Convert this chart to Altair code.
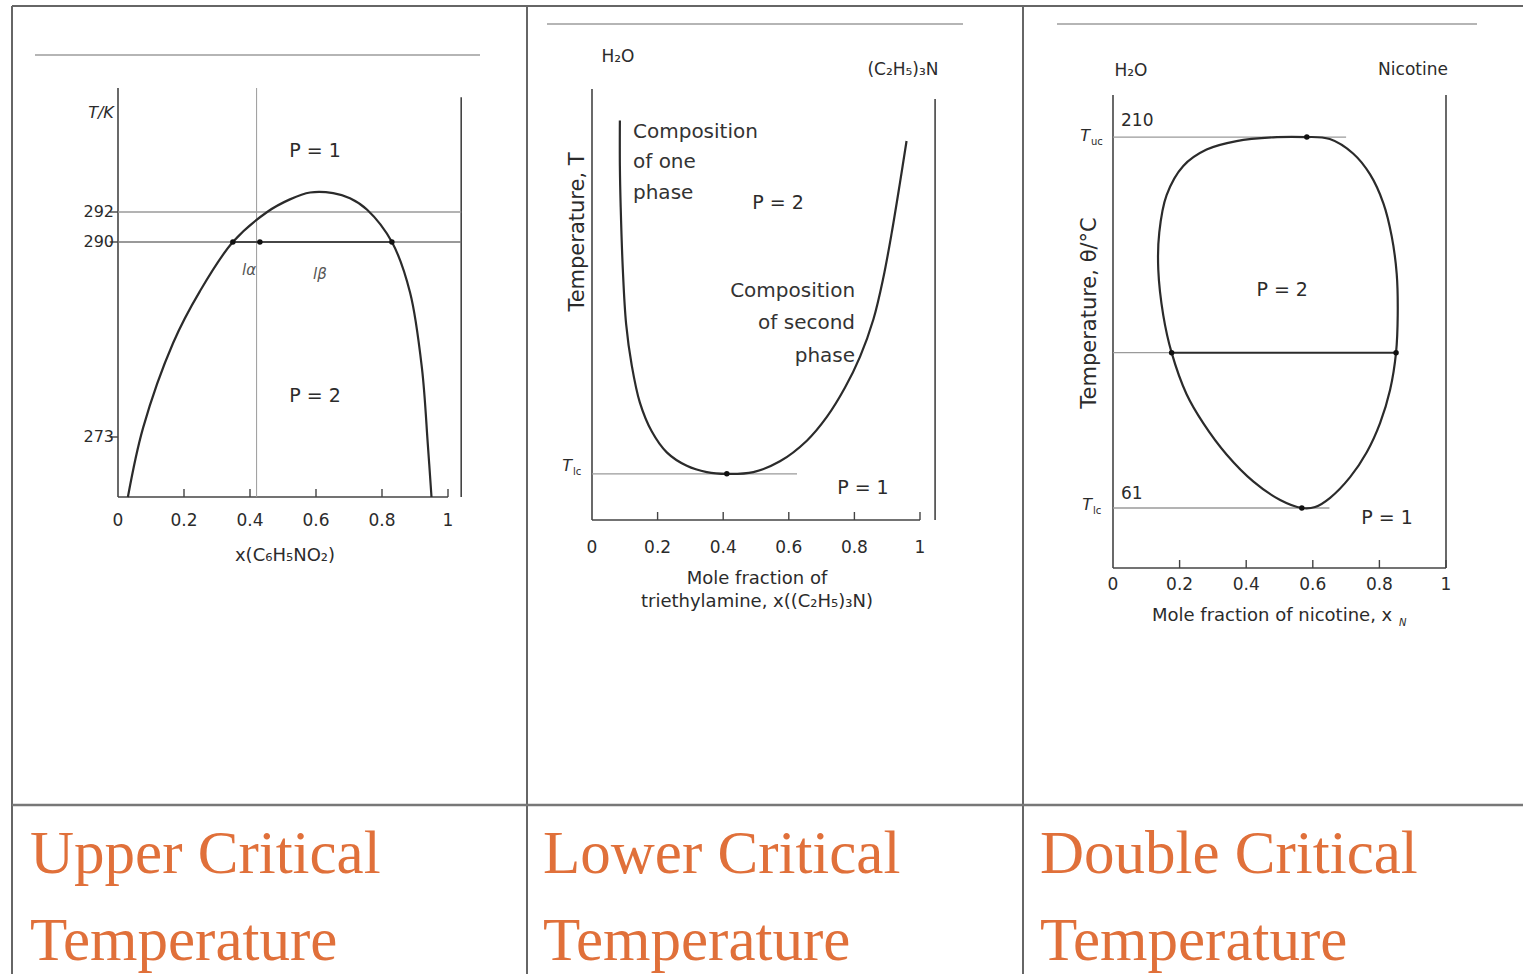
import altair as alt
import pandas as pd

# ---------------- data ----------------
# Panel 1: upper critical temperature (T/K vs x(C6H5NO2))
ucst_x = [0.030, 0.076, 0.167, 0.248, 0.348, 0.452, 0.521, 0.582, 0.652, 0.703, 0.755, 0.830, 0.885, 0.921, 0.939, 0.950]
ucst_T = [267.8, 273.8, 281.2, 285.7, 290.0, 292.0, 293.1, 293.7, 293.65, 293.2, 292.2, 290.0, 285.6, 279.0, 272.3, 267.8]
ucst_ticks_T = [292, 290, 273]
ucst_ticks_lbl = ["292", "290", "273"]
ucst_tie_T = 290
ucst_dots_x = [0.348, 0.43, 0.830]
ucst_vline_x = 0.42
ucst_ref_T = 292

# Panel 2: lower critical temperature (relative T vs x(triethylamine))
lcst_x = [0.085, 0.085, 0.0875, 0.094, 0.104, 0.121, 0.146, 0.182, 0.228, 0.289, 0.350, 0.411,
          0.492, 0.573, 0.655, 0.716, 0.771, 0.817, 0.858, 0.888, 0.914, 0.939, 0.959]
lcst_T = [89.2, 79.0, 69.8, 55.9, 43.8, 34.6, 26.2, 19.8, 15.1, 12.1, 10.7, 10.3,
          10.7, 13.1, 17.7, 23.0, 29.5, 36.4, 44.8, 54.0, 64.2, 75.3, 84.6]
lcst_Tlc = 10.3
lcst_min_x = 0.411

# Panel 3: double critical temperature (theta/°C vs x nicotine) - closed loop
dct_x = [0.582, 0.651, 0.721, 0.772, 0.812, 0.837, 0.852, 0.855, 0.850, 0.832, 0.802, 0.762, 0.712,
         0.652, 0.607, 0.567, 0.502, 0.421, 0.341, 0.271, 0.221, 0.176, 0.151, 0.136, 0.139, 0.161,
         0.211, 0.281, 0.371, 0.481, 0.582]
dct_T = [210.0, 209.2, 203.4, 195.0, 183.4, 170.1, 155.0, 138.4, 123.4, 108.4, 95.1, 83.4, 73.4,
         65.1, 61.4, 61.0, 64.2, 71.7, 82.5, 95.1, 106.7, 123.4, 138.4, 156.7, 171.7, 186.7,
         198.4, 205.0, 208.4, 209.9, 210.0]
dct_Tuc = 210
dct_Tlc = 61
dct_tie_T = 123.4
dct_tie_x = [0.176, 0.850]
dct_top_x = 0.582
dct_bot_x = 0.567

x_ticks = [0, 0.2, 0.4, 0.6, 0.8, 1]
x_tick_lbl = ["0", "0.2", "0.4", "0.6", "0.8", "1"]

titles_line1 = ["Upper Critical", "Lower Critical", "Double Critical"]
titles_line2 = ["Temperature", "Temperature", "Temperature"]

# ---------------- layout (pixels) ----------------
PANELS = {
    1: dict(xr=[118, 448], yd=[267.8, 273, 290, 292, 302.8], yr=[497, 437, 242, 212, 88]),
    2: dict(xr=[592, 920], yd=[0, 100], yr=[520, 72]),
    3: dict(xr=[1113, 1446], yd=[36.9, 226.9], yr=[568, 95]),
}
INK = "#2b2b2b"
AX = "#444444"
GRID = "#9a9a9a"
FONT = "DejaVu Sans"
ORANGE = "#E0703A"
ONE = pd.DataFrame({"a": [0]})


def pu(p, px):
    """pixel length -> data units on y near the bottom of panel p"""
    c = PANELS[p]
    return px * (c["yd"][1] - c["yd"][0]) / (c["yr"][0] - c["yr"][1])


def mk(p, mark, cols, **props):
    c = PANELS[p]
    df = pd.DataFrame(cols)
    sx = alt.Scale(domain=[0, 1], range=c["xr"], nice=False, zero=False)
    sy = alt.Scale(domain=c["yd"], range=c["yr"], nice=False, zero=False)
    enc = {}
    if "x" in df:
        enc["x"] = alt.X("x:Q", scale=sx, axis=None)
    if "x2" in df:
        enc["x2"] = alt.X2("x2:Q")
    if "y" in df:
        enc["y"] = alt.Y("y:Q", scale=sy, axis=None)
    if "y2" in df:
        enc["y2"] = alt.Y2("y2:Q")
    if "t" in df:
        enc["text"] = alt.Text("t:N")
    if "i" in df:
        enc["order"] = alt.Order("i:Q")
    return getattr(alt.Chart(df), "mark_" + mark)(**props).encode(**enc)


def ptxt(text, x, y, size=15, **kw):
    props = dict(fontSize=size, font=FONT, color=INK)
    props.update(kw)
    return alt.Chart(pd.DataFrame({"t": [text]})).mark_text(**props).encode(
        x=alt.value(x), y=alt.value(y), text=alt.Text("t:N"))


def sub(main, s, x, y, size=16):
    """italic symbol with a small subscript, right edge of the symbol at x"""
    return [ptxt(main, x, y, size=size, fontStyle="italic", align="right", baseline="middle"),
            ptxt(s, x + 1, y + 6, size=10, align="left", baseline="middle")]


def prule(x, y, x2=None, y2=None, color=AX, w=1.5):
    enc = dict(x=alt.value(x), y=alt.value(y))
    if x2 is not None:
        enc["x2"] = alt.value(x2)
    if y2 is not None:
        enc["y2"] = alt.value(y2)
    return alt.Chart(ONE).mark_rule(color=color, strokeWidth=w).encode(**enc)


def frame(p, right_x, right_top, top_T, tick_y):
    """axes of a panel: y axis, x axis, upward ticks, labels"""
    c = PANELS[p]
    y0 = c["yd"][0]
    L = []
    L.append(mk(p, "rule", dict(x=[0], y=[y0], y2=[top_T]), color=AX, strokeWidth=1.6))
    L.append(mk(p, "rule", dict(x=[0], x2=[1], y=[y0]), color=AX, strokeWidth=1.6))
    L.append(mk(p, "rule", dict(x=[right_x], y=[y0], y2=[right_top]), color=AX, strokeWidth=1.6))
    L.append(mk(p, "rule", dict(x=x_ticks[1:], y=[y0] * 5, y2=[y0 + pu(p, 8)] * 5),
                color=AX, strokeWidth=1.4))
    L.append(mk(p, "text", dict(x=x_ticks, t=x_tick_lbl), y=tick_y, fontSize=17,
                font=FONT, color=INK, baseline="middle"))
    return L


layers = []

# ---------------- table grid ----------------
layers += [
    prule(12, 6, x2=1523, color="#666666", w=2),
    prule(12, 6, y2=974, color="#666666", w=2),
    prule(527, 6, y2=974, color="#666666", w=2),
    prule(1023, 6, y2=974, color="#666666", w=2),
    prule(12, 805, x2=1523, color="#777777", w=2.5),
    # scanned page top lines
    prule(35, 55, x2=480, color="#b5b5b5", w=2),
    prule(547, 24, x2=963, color="#b5b5b5", w=2),
    prule(1057, 24, x2=1477, color="#b5b5b5", w=2),
]

# ---------------- panel 1 ----------------
p = 1
y0 = PANELS[p]["yd"][0]
layers += frame(p, right_x=1.04, right_top=302.0, top_T=302.8, tick_y=521)
layers += [
    mk(p, "rule", dict(x=[ucst_vline_x], y=[y0], y2=[302.8]), color=GRID, strokeWidth=1),
    mk(p, "rule", dict(x=[0], x2=[1.04], y=[ucst_ref_T]), color=GRID, strokeWidth=1.3),
    mk(p, "rule", dict(x=[0], x2=[1.04], y=[ucst_tie_T]), color="#777777", strokeWidth=1.3),
    mk(p, "rule", dict(x=[ucst_dots_x[0]], x2=[ucst_dots_x[-1]], y=[ucst_tie_T]), color=INK, strokeWidth=1.6),
    mk(p, "rule", dict(x=[-0.025] * 3, x2=[0] * 3, y=ucst_ticks_T), color=AX, strokeWidth=1.4),
    mk(p, "line", dict(x=ucst_x, y=ucst_T, i=list(range(len(ucst_x)))),
       color=INK, strokeWidth=2.2, interpolate="catmull-rom"),
    mk(p, "circle", dict(x=ucst_dots_x, y=[ucst_tie_T] * 3), color="#111111", size=30, opacity=1),
    mk(p, "text", dict(y=ucst_ticks_T, t=ucst_ticks_lbl), x=114, align="right",
       baseline="middle", fontSize=16, font=FONT, color=INK),
    mk(p, "text", dict(x=[0.597, 0.597], y=[297.3, 276.6], t=["P = 1", "P = 2"]),
       fontSize=19, font=FONT, color=INK, baseline="middle"),
    mk(p, "text", dict(x=[0.397, 0.612], y=[287.6, 287.2], t=["lα", "lβ"]),
       fontSize=15, font=FONT, fontStyle="italic", color="#555555", baseline="middle"),
    ptxt("T/K", 101, 113, size=16, fontStyle="italic", baseline="middle"),
    ptxt("x(C₆H₅NO₂)", 285, 556, size=18, baseline="middle"),
]

# ---------------- panel 2 ----------------
p = 2
layers += frame(p, right_x=1.046, right_top=94.0, top_T=96.2, tick_y=548)
layers += [
    mk(p, "rule", dict(x=[0], x2=[0.625], y=[lcst_Tlc]), color=GRID, strokeWidth=1.3),
    mk(p, "line", dict(x=lcst_x, y=lcst_T, i=list(range(len(lcst_x)))),
       color=INK, strokeWidth=2.2, interpolate="catmull-rom"),
    mk(p, "circle", dict(x=[lcst_min_x], y=[lcst_Tlc]), color="#111111", size=30, opacity=1),
    mk(p, "text", dict(x=[0.125] * 3, y=[86.6, 79.9, 73.0], t=["Composition", "of one", "phase"]),
       align="left", baseline="middle", fontSize=20, font=FONT, color="#333333"),
    mk(p, "text", dict(x=[0.802] * 3, y=[51.1, 44.0, 36.6], t=["Composition", "of second", "phase"]),
       align="right", baseline="middle", fontSize=20, font=FONT, color="#333333"),
    mk(p, "text", dict(x=[0.567, 0.826], y=[70.8, 7.1], t=["P = 2", "P = 1"]),
       fontSize=19, font=FONT, color=INK, baseline="middle"),
    ptxt("H₂O", 618, 57, size=17, baseline="middle"),
    ptxt("(C₂H₅)₃N", 903, 70, size=17, baseline="middle"),
    ptxt("Temperature, T", 578, 232, size=21, angle=270, baseline="middle"),
    ptxt("Mole fraction of", 757, 579, size=18, baseline="middle"),
    ptxt("triethylamine, x((C₂H₅)₃N)", 757, 602, size=18, baseline="middle"),
]
layers += sub("T", "lc", 572, 466)

# ---------------- panel 3 ----------------
p = 3
layers += frame(p, right_x=1.0, right_top=226.9, top_T=226.9, tick_y=585)
layers += [
    mk(p, "rule", dict(x=[0], x2=[0.70], y=[dct_Tuc]), color=GRID, strokeWidth=1.3),
    mk(p, "rule", dict(x=[0], x2=[0.65], y=[dct_Tlc]), color=GRID, strokeWidth=1.3),
    mk(p, "rule", dict(x=[0], x2=[dct_tie_x[0]], y=[dct_tie_T]), color=GRID, strokeWidth=1.3),
    mk(p, "rule", dict(x=[dct_tie_x[0]], x2=[dct_tie_x[1]], y=[dct_tie_T]), color=INK, strokeWidth=2),
    mk(p, "line", dict(x=dct_x, y=dct_T, i=list(range(len(dct_x)))),
       color=INK, strokeWidth=2.2, interpolate="catmull-rom"),
    mk(p, "circle", dict(x=dct_tie_x + [dct_top_x, dct_bot_x],
                         y=[dct_tie_T, dct_tie_T, dct_Tuc, dct_Tlc]),
       color="#111111", size=30, opacity=1),
    mk(p, "text", dict(x=[0.508, 0.823], y=[148.6, 57.0], t=["P = 2", "P = 1"]),
       fontSize=19, font=FONT, color=INK, baseline="middle"),
    ptxt("H₂O", 1131, 71, size=17, baseline="middle"),
    ptxt("Nicotine", 1413, 70, size=17, baseline="middle"),
    ptxt("210", 1121, 121, size=17, align="left", baseline="middle"),
    ptxt("61", 1121, 494, size=17, align="left", baseline="middle"),
    ptxt("Temperature, θ/°C", 1090, 313, size=21, angle=270, baseline="middle"),
    ptxt("Mole fraction of nicotine, x", 1152, 616, size=18, align="left", baseline="middle"),
]
layers += sub("T", "uc", 1090, 136)
layers += sub("T", "lc", 1092, 505)
layers.append(ptxt("N", 1399, 623, size=10, fontStyle="italic", align="left", baseline="middle"))

# ---------------- titles ----------------
title_x = [30, 543, 1040]
for i in range(3):
    layers.append(ptxt(titles_line1[i], title_x[i], 873, size=61, font="Liberation Serif",
                       color=ORANGE, align="left", baseline="alphabetic"))
    layers.append(ptxt(titles_line2[i], title_x[i], 960, size=61, font="Liberation Serif",
                       color=ORANGE, align="left", baseline="alphabetic"))

chart = (
    alt.layer(*layers)
    .resolve_scale(x="independent", y="independent")
    .properties(width=1523, height=974, padding=0, autosize="none", background="white")
    .configure_view(stroke=None)
)

chart.save("out.html", embed_options={"renderer": "svg", "actions": False})
